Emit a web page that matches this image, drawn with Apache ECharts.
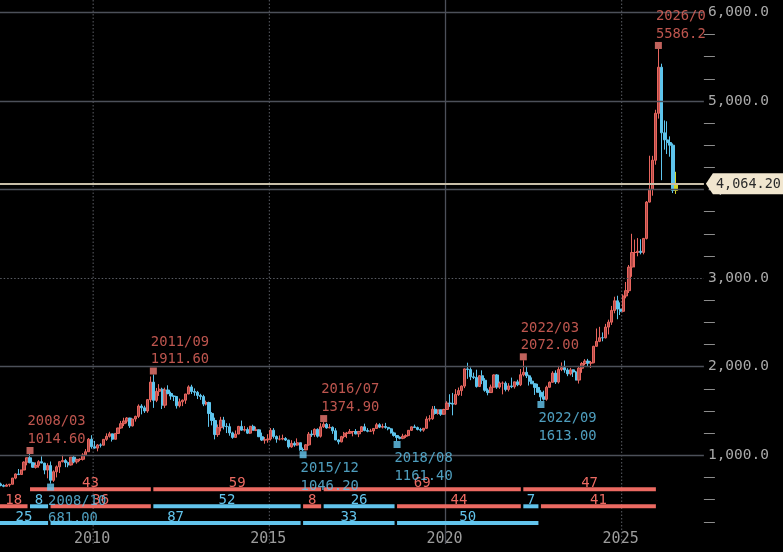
<!DOCTYPE html>
<html>
<head>
<meta charset="utf-8">
<script src="https://cdn.jsdelivr.net/npm/echarts@6.0.0/dist/echarts.min.js"></script>
<style>
html,body{margin:0;padding:0;background:#000;overflow:hidden;}
#chart{width:783px;height:552px;}
</style>
</head>
<body>
<div id="chart"></div>
<script>
// ---------- categories: one per month, 2006/09 .. 2027/04 ----------
const categoryCount = 248;
const categories = [];
(function () { let y = 2006, m = 9; for (let i = 0; i < categoryCount; i++) { categories.push(y + '/' + (m < 10 ? '0' : '') + m); m++; if (m > 12) { m = 1; y++; } } })();

// ---------- monthly OHLC, 2006/09 .. 2026/07 ----------
const opens = [
  623, 599, 604, 646,
  632, 650, 669, 662, 677, 659, 650, 665, 673, 743, 789, 783,
  834, 923, 972, 916, 865, 886, 928, 912, 833, 884, 718, 814,
  870, 928, 942, 917, 891, 979, 926, 954, 955, 1004, 1040, 1182,
  1097, 1081, 1117, 1114, 1180, 1214, 1242, 1181, 1247, 1308, 1357, 1387,
  1420, 1333, 1410, 1439, 1556, 1536, 1500, 1628, 1826, 1620, 1722, 1746,
  1566, 1737, 1697, 1669, 1664, 1559, 1604, 1622, 1692, 1772, 1720, 1711,
  1676, 1663, 1578, 1596, 1472, 1393, 1234, 1312, 1396, 1327, 1323, 1253,
  1202, 1240, 1326, 1284, 1291, 1250, 1327, 1282, 1287, 1210, 1172, 1175,
  1184, 1283, 1213, 1183, 1183, 1190, 1172, 1095, 1135, 1115, 1142, 1065,
  1061, 1118, 1238, 1233, 1293, 1215, 1321, 1351, 1309, 1316, 1277, 1173,
  1152, 1211, 1249, 1249, 1268, 1268, 1242, 1269, 1322, 1280, 1271, 1275,
  1303, 1345, 1318, 1325, 1315, 1299, 1253, 1224, 1202, 1192, 1215, 1222,
  1282, 1321, 1313, 1292, 1284, 1305, 1409, 1413, 1520, 1472, 1513, 1464,
  1517, 1589, 1585, 1577, 1686, 1730, 1781, 1975, 1968, 1886, 1879, 1776,
  1898, 1847, 1734, 1708, 1769, 1907, 1770, 1814, 1814, 1743, 1783, 1774,
  1829, 1796, 1909, 1937, 1897, 1837, 1807, 1766, 1711, 1660, 1633, 1768,
  1824, 1928, 1827, 1969, 1990, 1963, 1919, 1965, 1940, 1849, 1983, 2036,
  2063, 2040, 2044, 2230, 2286, 2327, 2326, 2447, 2503, 2635, 2744, 2650,
  2625, 2798, 2858, 3124, 3289, 3289, 3303, 3290, 3448, 3858, 4003, 4330,
  4860, 5380, 4640, 4560, 4530, 4500, 3990
];
const highs = [
  637, 608, 650, 650,
  658, 690, 672, 697, 691, 673, 679, 677, 745, 795, 845, 838,
  932, 975, 1014.6, 926, 920, 945, 988, 915, 910, 930, 830, 885,
  933, 1005, 960, 930, 980, 990, 960, 966, 1024, 1070, 1195, 1227,
  1162, 1127, 1135, 1180, 1248, 1265, 1245, 1250, 1310, 1388, 1424, 1431,
  1424, 1411, 1447, 1575, 1577, 1560, 1632, 1890, 1911.6, 1760, 1803, 1763,
  1764, 1790, 1718, 1675, 1665, 1640, 1630, 1693, 1790, 1796, 1755, 1727,
  1694, 1683, 1617, 1605, 1487, 1425, 1348, 1434, 1434, 1362, 1361, 1267,
  1280, 1332, 1392, 1331, 1315, 1332, 1345, 1323, 1293, 1256, 1206, 1238,
  1308, 1307, 1224, 1224, 1233, 1205, 1175, 1170, 1157, 1191, 1142, 1088,
  1127, 1263, 1283, 1304, 1304, 1362, 1374.9, 1367, 1353, 1326, 1306, 1182,
  1220, 1264, 1264, 1296, 1272, 1296, 1275, 1331, 1357, 1306, 1299, 1307,
  1366, 1362, 1356, 1366, 1316, 1309, 1266, 1224, 1214, 1243, 1237, 1284,
  1326, 1346, 1324, 1310, 1306, 1439, 1453, 1555, 1557, 1517, 1516, 1525,
  1611, 1689, 1704, 1747, 1765, 1789, 1981, 2045, 1992, 1933, 1966, 1906,
  1959, 1871, 1755, 1798, 1913, 1916, 1832, 1834, 1834, 1814, 1877, 1831,
  1853, 1974, 2072.0, 1998, 1910, 1879, 1814, 1807, 1735, 1729, 1786, 1833,
  1949, 1959, 2009, 2048, 2069, 1983, 1987, 1970, 1953, 2009, 2052, 2085,
  2088, 2065, 2236, 2431, 2450, 2387, 2483, 2531, 2686, 2790, 2801, 2726,
  2817, 2956, 3148, 3500, 3435, 3452, 3439, 3453, 3870, 4381, 4380, 4900,
  5586.2, 5420, 4780, 4770, 4600, 4520, 4200
];
const lows = [
  560, 560, 600, 609,
  603, 648, 636, 660, 650, 640, 650, 645, 673, 730, 776, 783,
  834, 887, 910, 860, 850, 860, 910, 786, 740, 681.0, 700, 750,
  800, 920, 866, 865, 884, 910, 905, 934, 941, 1003, 1040, 1075,
  1075, 1045, 1088, 1113, 1163, 1200, 1155, 1180, 1243, 1300, 1330, 1360,
  1309, 1325, 1380, 1420, 1462, 1478, 1480, 1600, 1535, 1600, 1670, 1522,
  1535, 1688, 1627, 1612, 1527, 1540, 1555, 1581, 1690, 1692, 1672, 1635,
  1626, 1555, 1562, 1321, 1338, 1180, 1208, 1270, 1292, 1251, 1221, 1187,
  1202, 1238, 1277, 1268, 1240, 1240, 1280, 1273, 1205, 1161, 1131, 1142,
  1167, 1190, 1142, 1168, 1170, 1162, 1077, 1085, 1097, 1107, 1052, 1046.2,
  1058, 1108, 1208, 1208, 1200, 1200, 1310, 1301, 1306, 1242, 1171, 1124,
  1146, 1191, 1194, 1242, 1214, 1236, 1205, 1264, 1271, 1260, 1264, 1236,
  1302, 1307, 1303, 1301, 1282, 1246, 1211, 1161.4, 1180, 1182, 1196, 1221,
  1275, 1310, 1281, 1266, 1266, 1301, 1382, 1400, 1459, 1458, 1445, 1459,
  1517, 1547, 1451, 1567, 1670, 1671, 1758, 1863, 1848, 1860, 1764, 1775,
  1803, 1717, 1677, 1705, 1766, 1750, 1750, 1688, 1721, 1721, 1758, 1753,
  1780, 1781, 1890, 1872, 1787, 1805, 1681, 1709, 1613.0, 1617, 1616, 1765,
  1823, 1805, 1810, 1950, 1932, 1893, 1902, 1884, 1846, 1810, 1931, 2016,
  2002, 1985, 2039, 2228, 2277, 2287, 2319, 2364, 2472, 2603, 2536, 2583,
  2614, 2772, 2832, 3015, 3121, 3246, 3268, 3268, 3436, 3853, 3930, 4280,
  4800, 4105, 4450, 4400, 4370, 3960, 3950
];
const closes = [
  599, 604, 646, 632,
  650, 669, 662, 677, 659, 650, 665, 673, 743, 789, 783, 834,
  923, 972, 916, 865, 886, 928, 912, 833, 884, 718, 814, 870,
  928, 942, 917, 891, 979, 926, 954, 955, 1004, 1040, 1182, 1097,
  1081, 1117, 1114, 1180, 1214, 1242, 1181, 1247, 1308, 1357, 1387, 1420,
  1333, 1410, 1439, 1556, 1536, 1500, 1628, 1826, 1620, 1722, 1746, 1566,
  1737, 1697, 1669, 1664, 1559, 1604, 1622, 1692, 1772, 1720, 1711, 1676,
  1663, 1578, 1596, 1472, 1393, 1234, 1312, 1396, 1327, 1323, 1253, 1202,
  1240, 1326, 1284, 1291, 1250, 1327, 1282, 1287, 1210, 1172, 1175, 1184,
  1283, 1213, 1183, 1183, 1190, 1172, 1095, 1135, 1115, 1142, 1065, 1061,
  1118, 1238, 1233, 1293, 1215, 1321, 1351, 1309, 1316, 1277, 1173, 1152,
  1211, 1249, 1249, 1268, 1268, 1242, 1269, 1322, 1280, 1271, 1275, 1303,
  1345, 1318, 1325, 1315, 1299, 1253, 1224, 1202, 1192, 1215, 1222, 1282,
  1321, 1313, 1292, 1284, 1305, 1409, 1413, 1520, 1472, 1513, 1464, 1517,
  1589, 1585, 1577, 1686, 1730, 1781, 1975, 1968, 1886, 1879, 1776, 1898,
  1847, 1734, 1708, 1769, 1907, 1770, 1814, 1814, 1743, 1783, 1774, 1829,
  1796, 1909, 1937, 1897, 1837, 1807, 1766, 1711, 1660, 1633, 1768, 1824,
  1928, 1827, 1969, 1990, 1963, 1919, 1965, 1940, 1849, 1983, 2036, 2063,
  2040, 2044, 2230, 2286, 2327, 2326, 2447, 2503, 2635, 2744, 2650, 2625,
  2798, 2858, 3124, 3289, 3289, 3303, 3290, 3448, 3858, 4003, 4330, 4860,
  5380, 4640, 4560, 4530, 4500, 3990, 4064.2
];

// ---------- swing highs / lows ----------
const peakDates = ['2008/03', '2011/09', '2016/07', '2022/03', '2026/01'];
const peakValues = [1014.6, 1911.6, 1374.9, 2072.0, 5586.2];
const troughDates = ['2008/10', '2015/12', '2018/08', '2022/09'];
const troughValues = [681.0, 1046.2, 1161.4, 1613.0];

// ---------- wave counts (months, inclusive) ----------
const peakToPeak = [['2008/03', '2011/09', 43], ['2011/09', '2016/07', 59], ['2016/07', '2022/03', 69], ['2022/03', '2026/01', 47]];
const swings = [['2006/10', '2008/03', 18, 'up'], ['2008/03', '2008/10', 8, 'down'], ['2008/10', '2011/09', 36, 'up'],
  ['2011/09', '2015/12', 52, 'down'], ['2015/12', '2016/07', 8, 'up'], ['2016/07', '2018/08', 26, 'down'],
  ['2018/08', '2022/03', 44, 'up'], ['2022/03', '2022/09', 7, 'down'], ['2022/09', '2026/01', 41, 'up']];
const troughToTrough = [['2006/10', '2008/10', 25], ['2008/10', '2015/12', 87], ['2015/12', '2018/08', 33], ['2018/08', '2022/09', 50]];

// ---------- axis ticks ----------
const yearTicks = ['2010/01', '2015/01', '2020/01', '2025/01'];
const solidYearLine = '2020/01';
const priceGridSolid = [1000, 2000, 4000, 5000, 6000];
const priceGridDotted = [3000];

// ---------- styles ----------
const RED = '#ec6a62', BLUE = '#62c4ec';
const GRID_LINE = '#4c5059';
const DOT_LINE = '#5a5d64';
const MONO = '"DejaVu Sans Mono", monospace';
const ROW_OFFSETS = [54.6, 37.6, 20.8];

const candleData = opens.map((o, i) => {
  const item = { value: [o, closes[i], lows[i], highs[i]] };
  if (i === opens.length - 1) item.itemStyle = { color: '#d4d42a', borderColor: '#d4d42a', color0: '#d4d42a', borderColor0: '#d4d42a' };
  return item;
});

const segData = [];
peakToPeak.forEach(s => segData.push([categories.indexOf(s[0]), categories.indexOf(s[1]), s[2], 0, 0]));
swings.forEach(s => segData.push([categories.indexOf(s[0]), categories.indexOf(s[1]), s[2], 1, s[3] === 'up' ? 0 : 1]));
troughToTrough.forEach(s => segData.push([categories.indexOf(s[0]), categories.indexOf(s[1]), s[2], 2, 1]));

const yearLineData = yearTicks.map(v => [categories.indexOf(v), 0, v === solidYearLine ? 1 : 0]);

function fmtAxis(v) {
  const s = String(Math.round(v));
  return s.replace(/\B(?=(\d{3})+(?!\d))/g, ',') + '.0';
}
function fmtPrice(v) {
  const parts = v.toFixed(2).split('.');
  return parts[0].replace(/\B(?=(\d{3})+(?!\d))/g, ',') + '.' + parts[1];
}

const lastIdx = closes.length - 1;
const lastClose = closes[lastIdx];

const chart = echarts.init(document.getElementById('chart'), null, { renderer: 'canvas' });
chart.setOption({
  backgroundColor: '#000',
  animation: false,
  grid: { left: -24.3, right: 79.1, top: -76.3, bottom: 8.1, containLabel: false, outerBoundsMode: 'none' },
  xAxis: {
    type: 'category', data: categories, boundaryGap: true,
    axisLine: { show: false }, axisTick: { show: false },
    axisLabel: {
      inside: true, margin: -3, color: '#9c9c9c', fontFamily: MONO, fontSize: 15, padding: [0, 5, 0, 0],
      interval: (i, v) => yearTicks.indexOf(v) >= 0,
      formatter: v => v.slice(0, 4)
    },
    splitLine: { show: false }
  },
  yAxis: {
    type: 'value', position: 'right', min: 0, max: 7000, interval: 1000,
    axisLine: { show: false }, axisTick: { show: false },
    minorTick: { show: true, splitNumber: 4, length: 11, lineStyle: { color: '#8c8c8c', width: 1 } },
    splitLine: { show: false },
    axisLabel: { color: '#a9a9a9', fontFamily: MONO, fontSize: 14.5, margin: 4, showMinLabel: false, showMaxLabel: false, formatter: fmtAxis }
  },
  series: [
    {
      type: 'line', name: 'grid', data: [], z: 1, silent: true,
      markLine: {
        silent: true, symbol: ['none', 'none'], label: { show: false }, animation: false,
        data: priceGridSolid.map(v => ({ yAxis: v, lineStyle: { color: GRID_LINE, width: 1.3, type: 'solid' } }))
          .concat(priceGridDotted.map(v => ({ yAxis: v, lineStyle: { color: DOT_LINE, width: 1, type: [1.5, 2] } })))
      }
    },
    {
      type: 'custom', name: 'yearLines', z: 1, silent: true, clip: false,
      encode: { x: 0, y: 1 },
      data: yearLineData,
      renderItem: function (params, api) {
        const band = api.size([1, 0])[0];
        const x = api.coord([api.value(0), 0])[0] - band / 2;
        const cs = params.coordSys;
        const solid = api.value(2) === 1;
        return {
          type: 'line', shape: { x1: x, y1: Math.max(cs.y, 0), x2: x, y2: cs.y + cs.height },
          style: { stroke: solid ? GRID_LINE : DOT_LINE, lineWidth: solid ? 1.3 : 1, lineDash: solid ? null : [1.5, 2] }
        };
      }
    },
    {
      type: 'candlestick', name: 'price', z: 3, barWidth: 2.8,
      data: candleData,
      itemStyle: { color: 'rgba(222,92,88,0.8)', borderColor: '#e8665f', color0: '#5ec4ec', borderColor0: '#5ec4ec', borderWidth: 1 },
      markLine: {
        silent: true, symbol: ['none', 'none'], label: { show: false }, animation: false,
        data: [{ yAxis: lastClose, lineStyle: { color: '#c9bfa9', width: 2.2, type: 'solid' } }]
      }
    },
    {
      type: 'scatter', name: 'peaks', z: 5, symbol: 'rect', symbolSize: 7, symbolOffset: [0, -3.5],
      itemStyle: { color: '#f07a73' },
      label: {
        show: true, position: [1, 1], align: 'left', verticalAlign: 'bottom', color: RED,
        fontFamily: MONO, fontSize: 13.8, lineHeight: 17.5,
        formatter: p => p.value[0] + '\n' + p.value[1].toFixed(2)
      },
      data: peakDates.map((d, i) => {
        const it = { value: [d, peakValues[i]] };
        if (i === peakDates.length - 1) it.label = { width: 51, overflow: 'truncate', ellipsis: '' };
        return it;
      })
    },
    {
      type: 'scatter', name: 'troughs', z: 5, symbol: 'rect', symbolSize: 7, symbolOffset: [0, 3.5],
      itemStyle: { color: '#66c8f0' },
      label: {
        show: true, position: [1, 8.75], align: 'left', verticalAlign: 'top', color: BLUE,
        fontFamily: MONO, fontSize: 13.8, lineHeight: 17.5,
        formatter: p => p.value[0] + '\n' + p.value[1].toFixed(2)
      },
      data: troughDates.map((d, i) => [d, troughValues[i]])
    },
    {
      type: 'custom', name: 'waves', z: 4, silent: true, clip: false,
      dimensions: ['start', 'end', 'count', 'row', 'kind'],
      encode: { x: [0, 1], y: 3 },
      data: segData,
      renderItem: function (params, api) {
        const s = api.coord([api.value(0), 0]);
        const e = api.coord([api.value(1), 0]);
        const col = api.value(4) === 0 ? RED : BLUE;
        const y = s[1] - ROW_OFFSETS[api.value(3)];
        const x1 = s[0], x2 = e[0] - 2.5;
        const vis1 = Math.max(x1, 0);
        return {
          type: 'group', children: [
            { type: 'rect', shape: { x: x1, y: y - 2, width: x2 - x1, height: 4 }, style: { fill: col } },
            { type: 'text', style: { x: (vis1 + x2) / 2, y: y + 1.5, text: String(api.value(2)), fill: col, font: '14px ' + MONO, align: 'center', verticalAlign: 'bottom', textAlign: 'center', textVerticalAlign: 'bottom' } }
          ]
        };
      }
    },
    {
      type: 'custom', name: 'lastTag', z: 6, silent: true, clip: false,
      encode: { x: 0, y: 1 },
      data: [[lastIdx, lastClose]],
      renderItem: function (params, api) {
        const p = api.coord([api.value(0), api.value(1)]);
        const xr = params.coordSys.x + params.coordSys.width;
        const W = api.getWidth();
        const y = p[1];
        return {
          type: 'group', children: [
            { type: 'polygon', shape: { points: [[xr + 2, y], [xr + 9, y - 10.5], [W, y - 10.5], [W, y + 10.5], [xr + 9, y + 10.5]] }, style: { fill: '#f1e6cf' } },
            { type: 'text', style: { x: xr + 12, y: y + 0.5, text: fmtPrice(api.value(1)), fill: '#2a2a2a', font: '13.5px ' + MONO, verticalAlign: 'middle', textVerticalAlign: 'middle' } }
          ]
        };
      }
    }
  ]
});
</script>
</body>
</html>
